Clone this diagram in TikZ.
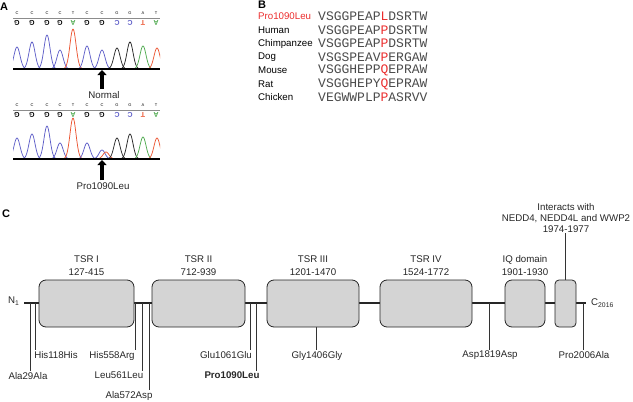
\documentclass[tikz,border=0pt]{standalone}
\usepackage{fontspec}
\setmainfont{Liberation Sans}
\newfontfamily\seqfont{Liberation Mono}
\usetikzlibrary{arrows.meta, positioning}

\definecolor{peakblue}{RGB}{95,95,200}
\definecolor{peakred}{RGB}{235,85,50}
\definecolor{peakgreen}{RGB}{80,170,80}
\definecolor{domgrey}{RGB}{212,212,212}
\definecolor{seqgrey}{RGB}{75,75,75}
\definecolor{mutred}{RGB}{235,45,45}

% one trace peak: colour, centre, baseline, height
\newcommand{\tracepeak}[4]{%
  \pgfmathsetmacro\pka{#2-10}\pgfmathsetmacro\pkb{#2+10}%
  \draw[trace, #1] plot[domain=\pka:\pkb, samples=31, smooth]
    (\x, {#3-#4*exp(-((\x-#2)/4.3)^2)});}

\begin{document}
\begin{tikzpicture}
% style
	[x=1pt, y=-1pt,
	every node/.style={font=\fontsize{9.7}{11.5}\selectfont, inner sep=1pt, text=black!85},
	panel/.style={font=\fontsize{11}{13}\selectfont\bfseries, inner sep=0pt, anchor=west, text=black},
	trace/.style={line width=0.75pt, line join=round},
	toplet/.style={font=\fontsize{4}{4}\selectfont, inner sep=0pt, text=black},
	botlet/.style={font=\fontsize{7}{7}\selectfont\bfseries, inner sep=0pt, rotate=180},
	fatarrow/.style={line width=3.2pt, -{Triangle[width=9pt, length=5pt]}},
	species/.style={anchor=west, inner sep=0pt, text=black},
	seq/.style={anchor=west, inner sep=0pt, text=seqgrey, font=\seqfont\fontsize{13}{13}\selectfont},
	dombox/.style={rectangle, rounded corners=7pt, draw=black!85, fill=domgrey, line width=0.8pt, minimum height=47pt},
	domlabel/.style={align=center, font=\fontsize{9.7}{12.5}\selectfont},
	backbone/.style={line width=1.1pt, draw=black!85},
	tick/.style={line width=0.9pt, draw=black!80},
	varlab/.style={anchor=north, inner sep=1pt}]

	\useasboundingbox (0,0) rectangle (633,402);

	% panel A
	\node [panel] (pA) at (0,7) {A};
	\begin{scope}
		\clip (13,0) rectangle (160,200);
		% normal trace
		\tracepeak{peakblue}{17}{69}{22}
		\tracepeak{peakblue}{32}{69}{27}
		\tracepeak{peakblue}{47}{69}{34}
		\tracepeak{peakblue}{60}{69}{19}
		\tracepeak{peakred}{73}{69}{40}
		\tracepeak{peakblue}{87}{69}{23}
		\tracepeak{peakblue}{102}{69}{19}
		\tracepeak{black!85}{117}{69}{21}
		\tracepeak{black!85}{130}{69}{27}
		\tracepeak{peakgreen}{143}{69}{23}
		\tracepeak{peakred}{157}{69}{21}
		% mutant trace
		\tracepeak{peakblue}{17}{159}{21}
		\tracepeak{peakblue}{32}{159}{25}
		\tracepeak{peakblue}{47}{159}{33}
		\tracepeak{peakblue}{60}{159}{16}
		\tracepeak{peakred}{73}{159}{41}
		\tracepeak{peakblue}{87}{159}{16}
		\tracepeak{peakblue}{102}{159}{9}
		\tracepeak{peakred}{106}{159}{7}
		\tracepeak{black!85}{117}{159}{21}
		\tracepeak{black!85}{130}{159}{25}
		\tracepeak{peakgreen}{143}{159}{22}
		\tracepeak{peakred}{157}{159}{21}
	\end{scope}
	\draw [black!45, line width=1pt] (13,18) -- (160,18);
	\draw [black!45, line width=1pt] (13,110) -- (160,110);
	\draw [black, line width=1.4pt] (13,69) -- (160,69);
	\draw [black, line width=1.4pt] (13,159) -- (160,159);
	\foreach \px/\tl/\bl/\cl in {17/C/G/black, 32/C/G/black, 47/C/G/black, 60/C/G/black,
		73/T/A/peakgreen, 87/C/G/black, 102/C/G/black, 117/G/C/peakblue,
		130/G/C/peakblue, 143/A/T/peakred, 156/T/A/peakgreen} {
		\node [toplet] (ta\px) at (\px,13) {\tl};
		\node [botlet, text=\cl] (ba\px) at (\px,23) {\bl};
		\node [toplet] (tb\px) at (\px,105) {\tl};
		\node [botlet, text=\cl] (bb\px) at (\px,115) {\bl};
	}
	\node (normal) at (104,95) {Normal};
	\node (mutant) at (103,186) {Pro1090Leu};
	\coordinate (siteA) at (102,70);
	\coordinate (siteB) at (102,160);
	\draw [fatarrow] (normal.north -| siteA) ++(0,-1) -- (siteA);
	\draw [fatarrow] (mutant.north -| siteB) ++(0,-1) -- (siteB);

	% panel B
	\node [panel] (pB) at (258,5) {B};
	\node [species, text=mutred] (sp0) at (258,16.5) {Pro1090Leu};
	\node [seq] (sq0) at (318,16.5) {VSGGPEAP\textcolor{mutred}{L}DSRTW};
	\foreach \sp/\pre/\res/\post [count=\i] in {Human/VSGGPEAP/P/DSRTW,
		Chimpanzee/VSGGPEAP/P/DSRTW, Dog/VSGSPEAV/P/ERGAW,
		Mouse/VSGGHEPP/Q/EPRAW, Rat/VSGGHEPY/Q/EPRAW, Chicken/VEGWWPLP/P/ASRVV} {
		\node [species] (sp\i) at (258,16.5+13.5*\i) {\sp};
		\node [seq] (sq\i) at (318,16.5+13.5*\i) {\pre\textcolor{mutred}{\res}\post};
	}

	% panel C
	\node [panel] (pC) at (2,214) {C};
	\coordinate (bbL) at (24,303);
	\coordinate (bbR) at (586,303);
	\node [anchor=west, inner sep=0pt] (nterm) at (8,301) {N\textsubscript{1}};
	\node [anchor=west, inner sep=0pt] (cterm) at (591,303) {C\textsubscript{2016}};
	\draw [backbone] (bbL) -- (bbR);

	% variants
	\coordinate (v29) at (30,303);
	\coordinate (v118) at (35,303);
	\coordinate (v558) at (135,303);
	\coordinate (v561) at (142,303);
	\coordinate (v572) at (149,303);
	\coordinate (v1061) at (250,303);
	\coordinate (v1090) at (256,303);
	\coordinate (v1406) at (316,303);
	\coordinate (v1819) at (489,303);
	\coordinate (v2006) at (583,303);
	\node [varlab] (l29) at (28,371) {Ala29Ala};
	\node [varlab] (l118) at (56,350) {His118His};
	\node [varlab] (l558) at (112,350) {His558Arg};
	\node [varlab] (l561) at (119,371) {Leu561Leu};
	\node [varlab] (l572) at (129,390) {Ala572Asp};
	\node [varlab] (l1061) at (226,350) {Glu1061Glu};
	\node [varlab, font=\fontsize{9.7}{11.5}\selectfont\bfseries] (l1090) at (232,371) {Pro1090Leu};
	\node [varlab] (l1406) at (317,350) {Gly1406Gly};
	\node [varlab] (l1819) at (490,350) {Asp1819Asp};
	\node [varlab] (l2006) at (584,350) {Pro2006Ala};
	\foreach \v in {29,118,558,561,572,1061,1090,1406,1819,2006}
		\draw [tick] (v\v) -- (v\v |- l\v.north);

	% domains
	\node [dombox, minimum width=95pt] (tsr1) at (86.5,303.5) {};
	\node [dombox, minimum width=93pt] (tsr2) at (198.5,303.5) {};
	\node [dombox, minimum width=92pt] (tsr3) at (313,303.5) {};
	\node [dombox, minimum width=92pt] (tsr4) at (426,303.5) {};
	\node [dombox, minimum width=40pt] (iq) at (525,303.5) {};
	\node [dombox, minimum width=21pt, rounded corners=4pt] (nedd) at (565.5,303.5) {};
	\node [domlabel, above=3pt of tsr1] (ltsr1) {TSR I\\127-415};
	\node [domlabel, above=3pt of tsr2] (ltsr2) {TSR II\\712-939};
	\node [domlabel, above=3pt of tsr3] (ltsr3) {TSR III\\1201-1470};
	\node [domlabel, above=3pt of tsr4] (ltsr4) {TSR IV\\1524-1772};
	\node [domlabel, above=3pt of iq] (liq) {IQ domain\\1901-1930};
	\node [domlabel, font=\fontsize{9.7}{10.7}\selectfont] (lnedd) at (566,218)
		{Interacts with\\NEDD4, NEDD4L and WWP2\\1974-1977};
	\draw [tick] (nedd.north) -- (nedd.north |- lnedd.south);
\end{tikzpicture}
\end{document}
